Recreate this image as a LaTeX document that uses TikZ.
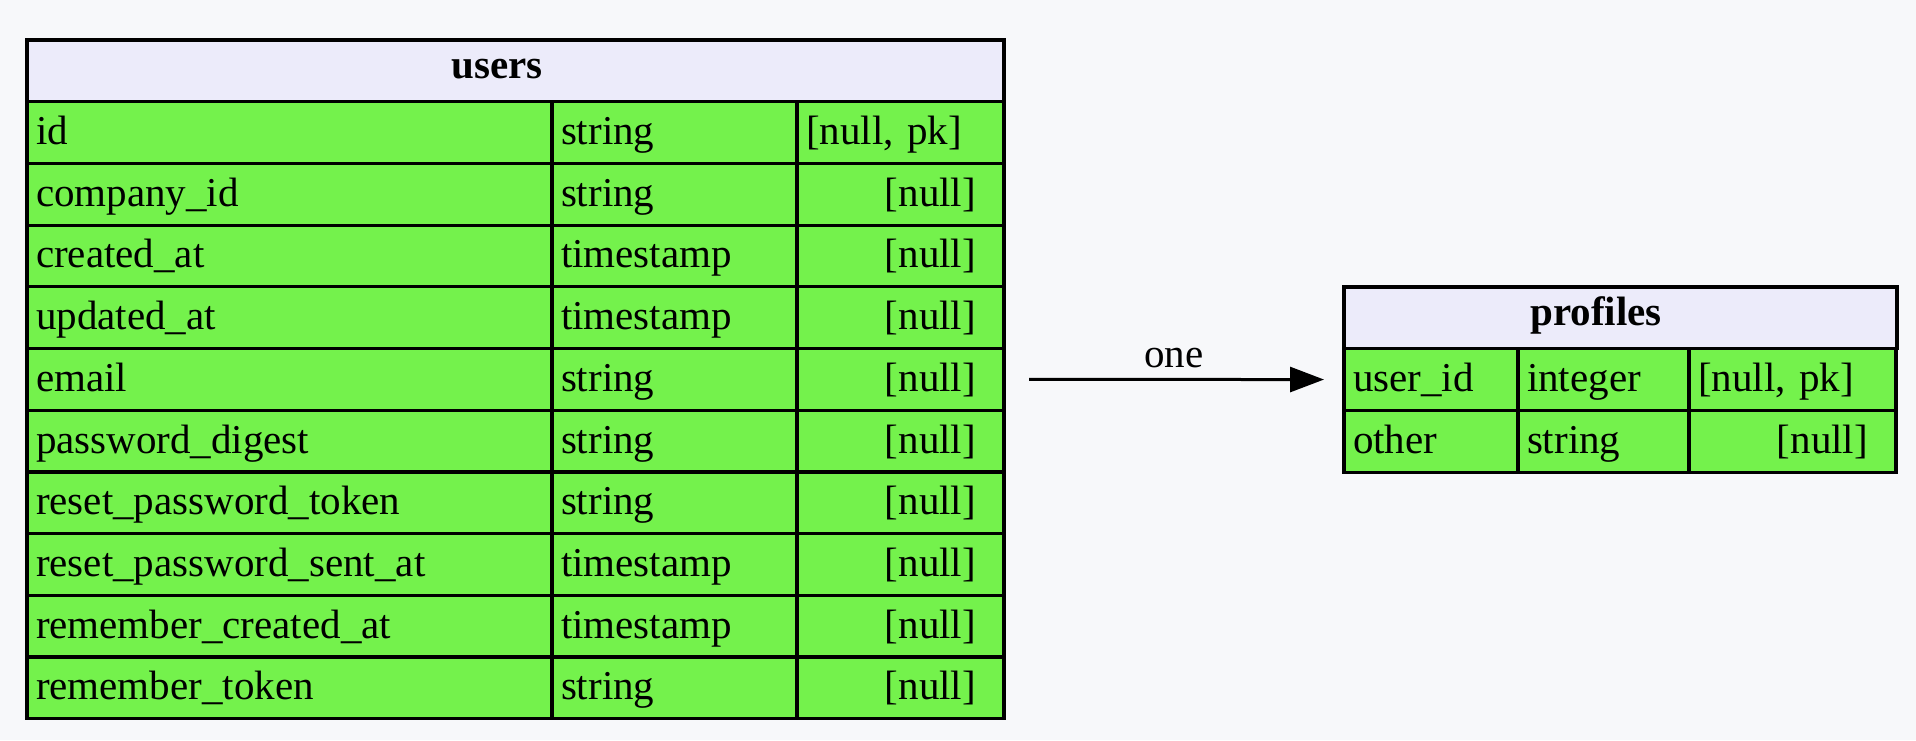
\documentclass[tikz,border=0pt]{standalone}
\usepackage{fontspec}
\setmainfont{Liberation Serif}
\usetikzlibrary{arrows.meta}

\definecolor{bgcol}{HTML}{F7F8FA}
\definecolor{hdrcol}{HTML}{ECEBFA}
\definecolor{rowcol}{HTML}{74F24C}

\tikzset{
  tbl/.style={draw, line width=3.2pt, outer sep=0pt, anchor=north west, minimum height=61.7pt,
    inner ysep=0pt, text height=30pt, text depth=6pt},
  hdr/.style={tbl, fill=hdrcol},
  title/.style={anchor=base, font=\fontsize{41}{49}\selectfont\bfseries},
  cell/.style={tbl, fill=rowcol, align=left, inner xsep=9pt},
  pkcell/.style={cell, text width=189pt},
  nullcell/.style={cell, inner xsep=28pt, text width=151pt, align=right},
  conn/.style={line width=3pt, -{Triangle[length=34pt, width=25pt]}}
}

\begin{document}
\begin{tikzpicture}[x=1pt, y=-1pt, font=\fontsize{41}{49}\selectfont]
        % Background
        \fill[bgcol] (0,0) rectangle (1916,740);

        % users table
        \node[hdr, minimum width=977pt] (u-h) at (27,40) {};
        \node[title] (u-t) at (497,78) {users};
        \foreach \fld/\typ/\opt [count=\i] in {
            id/string/{[null, pk]},
            company\_id/string/{[null]},
            created\_at/timestamp/{[null]},
            updated\_at/timestamp/{[null]},
            email/string/{[null]},
            password\_digest/string/{[null]},
            reset\_password\_token/string/{[null]},
            reset\_password\_sent\_at/timestamp/{[null]},
            remember\_created\_at/timestamp/{[null]},
            remember\_token/string/{[null]}} {
          \pgfmathsetmacro\y{40+61.7*\i}
          \ifnum\i=1 \tikzset{optcell/.style={pkcell}}\else\tikzset{optcell/.style={nullcell}}\fi
          \node[cell, text width=507pt] (u-\i-1) at (27,\y) {\fld};
          \node[cell, text width=227pt] (u-\i-2) at (u-\i-1.north east) {\typ};
          \node[optcell] (u-\i-3) at (u-\i-2.north east) {\opt};
        }

        % profiles table
        \node[hdr, minimum width=553pt] (p-h) at (1344,287) {};
        \node[title] (p-t) at (1596,325) {profiles};
        \foreach \fld/\typ/\opt [count=\i] in {
            user\_id/integer/{[null, pk]},
            other/string/{[null]}} {
          \pgfmathsetmacro\y{287+61.7*\i}
          \ifnum\i=1 \tikzset{optcell/.style={pkcell}}\else\tikzset{optcell/.style={nullcell}}\fi
          \node[cell, text width=156pt] (p-\i-1) at (1344,\y) {\fld};
          \node[cell, text width=153pt] (p-\i-2) at (p-\i-1.north east) {\typ};
          \node[optcell] (p-\i-3) at (p-\i-2.north east) {\opt};
        }

        % Relation
        \draw[conn, shorten <=25pt, shorten >=20pt] (u-5-3.east) -- (p-1-1.west)
            node[midway, anchor=base, yshift=12pt] (rel) {one};
\end{tikzpicture}
\end{document}
